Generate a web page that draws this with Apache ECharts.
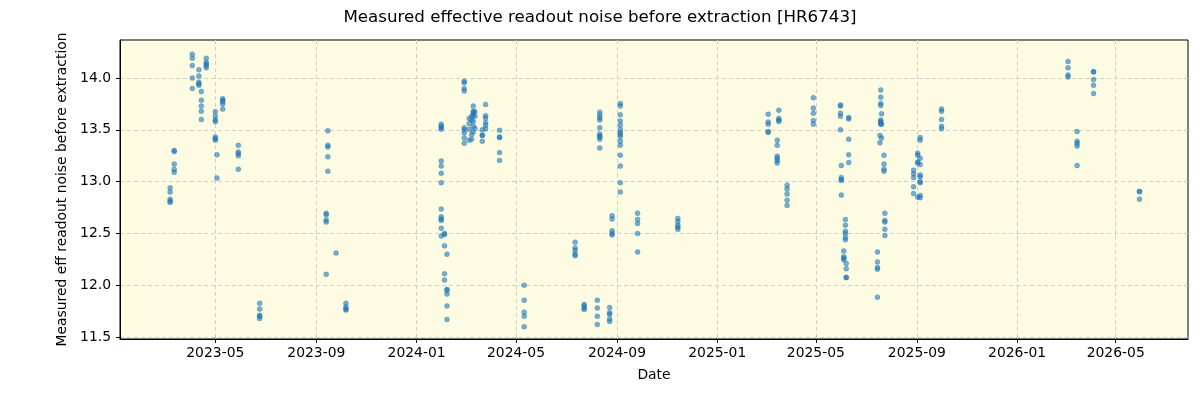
<!DOCTYPE html>
<html>
<head>
<meta charset="utf-8">
<script src="https://cdn.jsdelivr.net/npm/echarts@6/dist/echarts.min.js"></script>
<style>
  html, body { margin: 0; padding: 0; background: #fff; }
  #chart { width: 1200px; height: 400px; }
</style>
</head>
<body>
<div id="chart"></div>
<script>
// observation nights and the noise values measured on each
const obsDates = [
  '2023-03-07', '2023-03-12', '2023-04-03', '2023-04-11', '2023-04-14', '2023-04-20',
  '2023-05-01', '2023-05-03', '2023-05-10', '2023-05-29', '2023-06-24', '2023-09-13',
  '2023-09-15', '2023-09-25', '2023-10-07', '2024-01-31', '2024-02-04', '2024-02-07',
  '2024-02-28', '2024-03-05', '2024-03-08', '2024-03-10', '2024-03-12', '2024-03-21',
  '2024-03-25', '2024-04-11', '2024-05-11', '2024-07-12', '2024-07-23', '2024-08-08',
  '2024-08-11', '2024-08-23', '2024-08-26', '2024-09-05', '2024-09-26', '2024-11-14',
  '2025-03-04', '2025-03-15', '2025-03-17', '2025-03-27', '2025-04-28', '2025-05-31',
  '2025-06-01', '2025-06-04', '2025-06-06', '2025-06-07', '2025-06-10', '2025-07-15',
  '2025-07-18', '2025-07-19', '2025-07-20', '2025-07-23', '2025-07-24', '2025-08-28',
  '2025-09-02', '2025-09-05', '2025-10-01', '2026-03-04', '2026-03-15', '2026-04-04',
  '2026-05-30'
]

const noiseValues = [
  [12.94, 12.90, 12.83, 12.81, 12.80],
  [13.30, 13.29, 13.17, 13.12, 13.09],
  [14.23, 14.19, 14.12, 14.00, 13.90],
  [14.08, 14.02, 13.96, 13.945, 13.93],
  [13.87, 13.785, 13.73, 13.68, 13.60],
  [14.19, 14.15, 14.135, 14.12, 14.10],
  [13.675, 13.63, 13.595, 13.58, 13.43, 13.415, 13.40],
  [13.26, 13.035],
  [13.80, 13.785, 13.77, 13.75, 13.70],
  [13.35, 13.285, 13.27, 13.25, 13.12],
  [11.825, 11.77, 11.71, 11.70, 11.68],
  [12.695, 12.68, 12.63, 12.61, 12.105],
  [13.49, 13.35, 13.335, 13.24, 13.10],
  [12.31],
  [11.825, 11.79, 11.77, 11.76],
  [13.555, 13.535, 13.52, 13.505, 13.20, 13.15, 13.08, 12.99, 12.735, 12.66, 12.64, 12.625, 12.55, 12.475],
  [12.50, 12.49, 12.38, 12.11, 12.05],
  [12.30, 11.96, 11.95, 11.915, 11.80, 11.67],
  [13.97, 13.955, 13.90, 13.875, 13.52, 13.50, 13.47, 13.42, 13.37],
  [13.61, 13.56, 13.505, 13.40],
  [13.63, 13.595, 13.455, 13.41],
  [13.73, 13.68, 13.665, 13.64, 13.58, 13.535, 13.48],
  [13.675, 13.63, 13.515],
  [13.50, 13.45, 13.445, 13.39],
  [13.745, 13.635, 13.615, 13.57, 13.545, 13.51],
  [13.495, 13.43, 13.425, 13.28, 13.205],
  [12.00, 11.855, 11.74, 11.70, 11.60],
  [12.415, 12.36, 12.335, 12.30, 12.285],
  [11.815, 11.80, 11.78, 11.765],
  [11.855, 11.78, 11.70, 11.62],
  [13.67, 13.64, 13.615, 13.595, 13.52, 13.46, 13.44, 13.43, 13.41, 13.325],
  [11.785, 11.735, 11.72, 11.675, 11.65],
  [12.67, 12.64, 12.525, 12.50, 12.485],
  [13.755, 13.73, 13.645, 13.585, 13.545, 13.50, 13.475, 13.455, 13.435, 13.39, 13.35, 13.255, 13.15, 12.99, 12.90],
  [12.695, 12.635, 12.595, 12.50, 12.32],
  [12.645, 12.615, 12.58, 12.56, 12.54],
  [13.65, 13.575, 13.555, 13.485, 13.475],
  [13.40, 13.35, 13.245, 13.225, 13.205, 13.18],
  [13.69, 13.61, 13.595, 13.58],
  [12.965, 12.93, 12.88, 12.82, 12.77],
  [13.81, 13.71, 13.66, 13.59, 13.555],
  [13.74, 13.73, 13.66, 13.63, 13.50],
  [13.155, 13.04, 13.02, 13.01, 12.87],
  [12.33, 12.275, 12.26, 12.245],
  [12.635, 12.58, 12.52, 12.50, 12.46, 12.44],
  [12.21, 12.16, 12.075, 12.075],
  [13.62, 13.605, 13.41, 13.26, 13.185],
  [12.32, 12.225, 12.17, 12.155, 11.885],
  [13.445, 13.375],
  [13.885, 13.815, 13.755, 13.735, 13.595, 13.58, 13.57, 13.555],
  [13.655, 13.555, 13.42],
  [13.255, 13.17, 13.12, 13.10],
  [12.695, 12.625, 12.61, 12.54, 12.48],
  [13.11, 13.075, 13.04, 12.95, 12.885],
  [13.275, 13.255, 13.19, 13.18, 12.85],
  [13.425, 13.40, 13.225, 13.165, 13.065, 13.045, 13.00, 12.99, 12.865, 12.845],
  [13.70, 13.68, 13.60, 13.535, 13.51],
  [14.16, 14.10, 14.03, 14.01],
  [13.485, 13.39, 13.37, 13.345, 13.155],
  [14.06, 14.06, 13.985, 13.93, 13.85],
  [12.905, 12.905, 12.83]
]

const xTicks = [
  '2023-05-01', '2023-09-01', '2024-01-01', '2024-05-01', '2024-09-01',
  '2025-01-01', '2025-05-01', '2025-09-01', '2026-01-01', '2026-05-01'
]
const yTicks = [11.5, 12.0, 12.5, 13.0, 13.5, 14.0]

const toTime = d => +echarts.time.parse(d)

const points = []
obsDates.forEach((d, i) => {
  noiseValues[i].forEach(v => points.push([toTime(d), v]))
})

const font = 'DejaVu Sans'
const xTickTimes = xTicks.map(toTime)

const chart = echarts.init(document.getElementById('chart'), null, { renderer: 'canvas' })

chart.setOption({
  animation: false,
  textStyle: { fontFamily: font },
  title: {
    text: 'Measured effective readout noise before extraction [HR6743]',
    left: 'center',
    top: 4,
    textStyle: { fontFamily: font, fontSize: 16.7, fontWeight: 'normal', color: '#000' }
  },
  grid: {
    left: 120, right: 12, top: 40, bottom: 61,
    show: true,
    backgroundColor: '#fdfce3',
    borderColor: '#000',
    borderWidth: 1
  },
  xAxis: {
    type: 'value',
    min: toTime('2023-01-05'),
    max: toTime('2026-07-28'),
    name: 'Date',
    nameLocation: 'middle',
    nameGap: 29,
    nameTextStyle: { fontFamily: font, fontSize: 13.9, color: '#000' },
    axisLine: { show: true, lineStyle: { color: '#000', width: 1 } },
    axisTick: { show: true, inside: false, length: 4, customValues: xTickTimes, lineStyle: { color: '#000' } },
    axisLabel: {
      customValues: xTickTimes,
      fontFamily: font, fontSize: 13.9, color: '#000', margin: 7,
      formatter: v => echarts.time.format(v, '{yyyy}-{MM}', false)
    },
    splitLine: { show: true, lineStyle: { color: '#cfcfcf', type: [4, 3], width: 1 } }
  },
  yAxis: {
    type: 'value',
    min: 11.481,
    max: 14.367,
    name: 'Measured eff readout noise before extraction',
    nameLocation: 'middle',
    nameGap: 45,
    nameTextStyle: { fontFamily: font, fontSize: 13.9, color: '#000' },
    axisLine: { show: true, lineStyle: { color: '#000', width: 1 } },
    axisTick: { show: true, inside: false, length: 4, customValues: yTicks, lineStyle: { color: '#000' } },
    axisLabel: {
      customValues: yTicks,
      fontFamily: font, fontSize: 13.9, color: '#000', margin: 9,
      formatter: v => v.toFixed(1)
    },
    splitLine: { show: true, lineStyle: { color: '#cfcfcf', type: [4, 3], width: 1 } }
  },
  series: [
    {
      type: 'scatter',
      data: points,
      symbol: 'circle',
      symbolSize: 5,
      itemStyle: { color: '#1f77b4', opacity: 0.6, borderColor: '#1f77b4', borderWidth: 0.5 }
    }
  ]
})
</script>
</body>
</html>
